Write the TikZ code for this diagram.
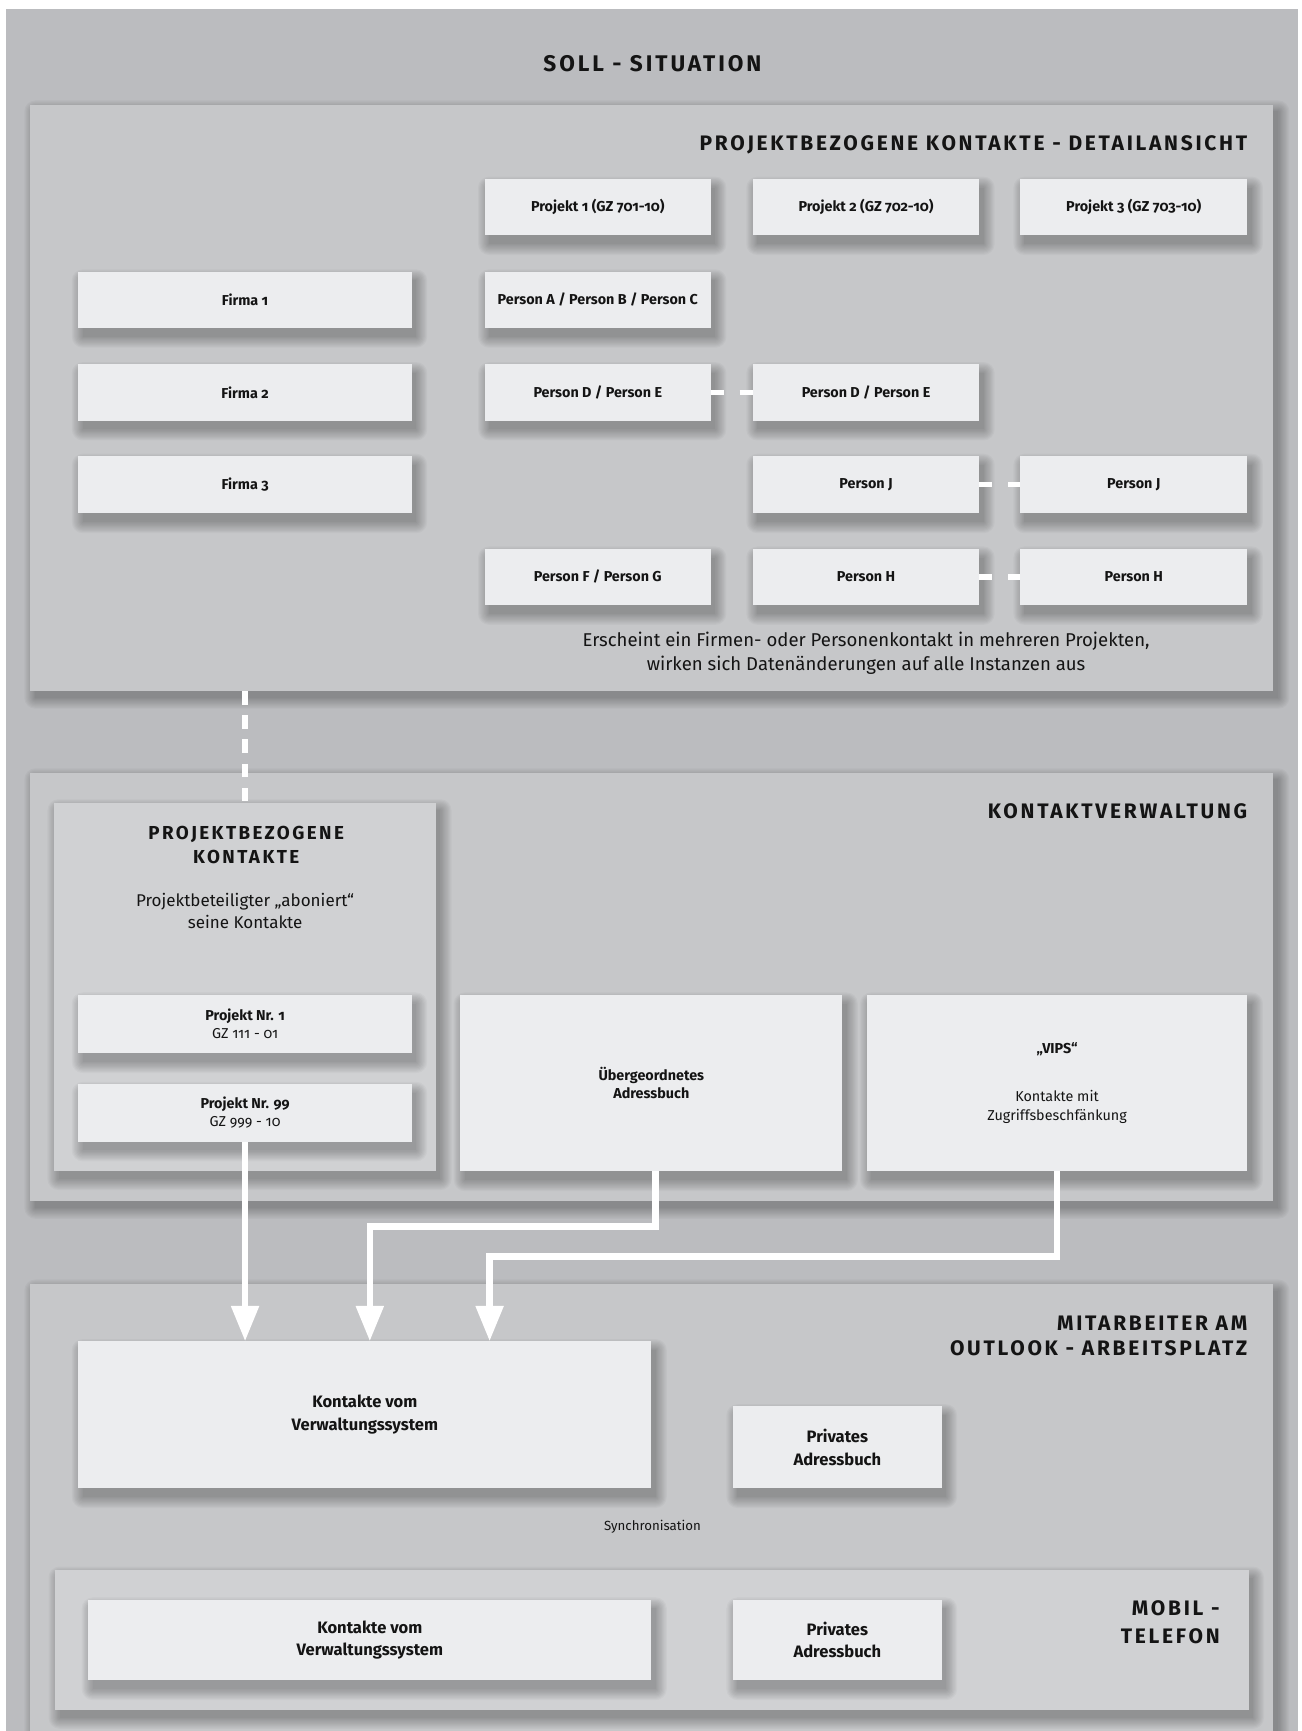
\documentclass[tikz,border=0pt]{standalone}
\usepackage{fontspec}
\setmainfont[Numbers=OldStyle]{Fira Sans}
\newfontfamily\trackfont[Numbers=OldStyle,LetterSpace=13]{Fira Sans}
\usetikzlibrary{arrows.meta,calc}

\pgfdeclarelayer{base}
\pgfdeclarelayer{pshade}
\pgfdeclarelayer{panels}
\pgfdeclarelayer{sshade}
\pgfdeclarelayer{subpanels}
\pgfdeclarelayer{bshade}
\pgfsetlayers{base,pshade,panels,sshade,subpanels,bshade,main}

\definecolor{outerbg}{HTML}{BBBCBF}
\definecolor{panelbg}{HTML}{C6C7C9}
\definecolor{subbg}{HTML}{D0D1D3}
\definecolor{boxbg}{HTML}{ECEDEF}
\definecolor{ink}{HTML}{141414}

% rectangle node given by its corners (x1,y1) (x2,y2), y growing downwards
\newcommand\areanode[7]{%
  \node[#1, anchor=north west, minimum width={#5pt-#3pt}, minimum height={#6pt-#4pt}] (#2) at (#3,#4) {#7};}

% soft drop shadow under a named node: dx, dy, blur spread
\newcommand\softshadow[4]{%
  \foreach \k in {0,...,9}{%
    \pgfmathsetmacro\rr{#4*\k/9}%
    \fill[black, fill opacity=0.028, rounded corners=\rr pt]
      ([shift={(-\rr+#2,-\rr+#3)}]#1.north west) rectangle ([shift={(\rr+#2,\rr+#3)}]#1.south east);
  }}

\begin{document}
\begin{tikzpicture}[x=1pt, y=-1pt,
  panel/.style={fill=panelbg, inner sep=0pt, outer sep=0pt},
  subpanel/.style={fill=subbg, inner sep=0pt, outer sep=0pt},
  card/.style={fill=boxbg, inner sep=0pt, outer sep=0pt, text=ink, align=center,
    font=\fontsize{13}{17}\selectfont\bfseries},
  bigcard/.style={card, font=\fontsize{15}{20.5}\selectfont\bfseries},
  head/.style={text=ink, inner sep=0pt, font=\trackfont\fontsize{19}{23}\selectfont\bfseries},
  plain/.style={text=ink, inner sep=0pt, align=center},
  link/.style={draw=white, line width=5pt, dash pattern=on 12pt off 14pt},
  flow/.style={draw=white, line width=6pt, -{Triangle[length=32pt,width=24pt]}}]

\useasboundingbox (0,0) rectangle (1178.5,1568);

% ---------- background ----------
\begin{pgfonlayer}{base}
  \fill[white] (0,0) rectangle (1178.5,1568);
  \areanode{fill=outerbg, inner sep=0pt, outer sep=0pt}{soll}{5}{8}{1176}{1580}{}
\end{pgfonlayer}

% ---------- main panels ----------
\begin{pgfonlayer}{panels}
  \areanode{panel}{detail}{27}{95}{1153}{626}{}
  \areanode{panel}{verw}{27}{700}{1153}{1088}{}
  \areanode{panel}{outlook}{27}{1163}{1153}{1600}{}
\end{pgfonlayer}

\begin{pgfonlayer}{subpanels}
  \areanode{subpanel}{pbk}{49}{727}{395}{1061}{}
  \areanode{subpanel}{mobil}{50}{1422}{1131}{1549}{}
\end{pgfonlayer}

% ---------- headings ----------
\node[head, font=\trackfont\fontsize{20.5}{24}\selectfont\bfseries, anchor=base] (title) at (591,65) {SOLL - SITUATION};
\node[head, anchor=base east] (hdetail) at (1130,136) {PROJEKTBEZOGENE KONTAKTE - DETAILANSICHT};
\node[head, anchor=base east] (hverw) at (1130,741) {KONTAKTVERWALTUNG};
\node[head, anchor=base east] (houta) at (1130,1205) {MITARBEITER AM};
\node[head, anchor=base east] (houtb) at (1130,1228) {OUTLOOK - ARBEITSPLATZ};
\node[head, anchor=base east] (hmoba) at (1105,1463.5) {MOBIL -};
\node[head, anchor=base east] (hmobb) at (1105,1488.5) {TELEFON};
\node[head, font=\trackfont\fontsize{17}{21}\selectfont\bfseries, anchor=base] (hpbka) at (223,760.6) {PROJEKTBEZOGENE};
\node[head, font=\trackfont\fontsize{17}{21}\selectfont\bfseries, anchor=base] (hpbkb) at (223,782.3) {KONTAKTE};
\node[plain, font=\fontsize{15.4}{19.6}\selectfont, anchor=base] (subpa) at (222,821.5) {Projektbeteiligter „aboniert“};
\node[plain, font=\fontsize{15.4}{19.6}\selectfont, anchor=base] (subpb) at (222,841) {seine Kontakte};

% ---------- detail view ----------
\areanode{card}{prj1}{439}{162}{644}{213}{Projekt 1 (GZ 701-10)}
\areanode{card}{prj2}{682}{162}{887}{213}{Projekt 2 (GZ 702-10)}
\areanode{card}{prj3}{924}{162}{1130}{213}{Projekt 3 (GZ 703-10)}
\areanode{card}{fa1}{71}{246}{373}{297}{Firma 1}
\areanode{card}{fa2}{71}{330}{373}{381}{Firma 2}
\areanode{card}{fa3}{71}{413}{373}{465}{Firma 3}
\areanode{card}{pABC}{439}{246}{644}{297}{Person A / Person B / Person C}
\areanode{card}{pDEa}{439}{330}{644}{381}{Person D / Person E}
\areanode{card}{pDEb}{682}{330}{887}{381}{Person D / Person E}
\areanode{card}{pJa}{682}{413}{887}{465}{Person J}
\areanode{card}{pJb}{924}{413}{1130}{465}{Person J}
\areanode{card}{pFG}{439}{497}{644}{548}{Person F / Person G}
\areanode{card}{pHa}{682}{497}{887}{548}{Person H}
\areanode{card}{pHb}{924}{497}{1130}{548}{Person H}
\node[plain, font=\fontsize{16.8}{22}\selectfont] (note) at (784.5,592)
  {Erscheint ein Firmen- oder Personenkontakt in mehreren Projekten,\\wirken sich Datenänderungen auf alle Instanzen aus};

% ---------- contact administration ----------
\areanode{card}{pn1}{71}{901}{373}{954}{Projekt Nr. 1\\[-0.5pt]{\mdseries GZ 111 - 01}}
\areanode{card}{pn99}{71}{982}{373}{1034}{Projekt Nr. 99\\[-0.5pt]{\mdseries GZ 999 - 10}}
\areanode{card}{ueb}{417}{901}{763}{1061}{Übergeordnetes\\Adressbuch}
\areanode{card}{vips}{785}{901}{1130}{1061}{„VIPS“\\[26pt]{\mdseries Kontakte mit}\\{\mdseries Zugriffsbeschfänkung}}

% ---------- workstation and phone ----------
\areanode{bigcard}{kv}{71}{1215}{590}{1348}{Kontakte vom\\Verwaltungssystem}
\areanode{bigcard}{priv}{664}{1274}{853}{1348}{Privates\\Adressbuch}
\node[plain, font=\fontsize{12}{14}\selectfont] (sync) at (591,1383) {Synchronisation};
\areanode{bigcard}{kvm}{80}{1449}{590}{1522}{Kontakte vom\\Verwaltungssystem}
\areanode{bigcard}{privm}{664}{1449}{853}{1522}{Privates\\Adressbuch}

% ---------- shadows ----------
\begin{pgfonlayer}{pshade}
  \foreach \n in {detail,verw,outlook}{\softshadow{\n}{5}{6}{10}}
\end{pgfonlayer}
\begin{pgfonlayer}{sshade}
  \foreach \n in {pbk,mobil}{\softshadow{\n}{4}{7}{10}}
\end{pgfonlayer}
\begin{pgfonlayer}{bshade}
  \foreach \n in {prj1,prj2,prj3,fa1,fa2,fa3,pABC,pDEa,pDEb,pJa,pJb,pFG,pHa,pHb,
                  pn1,pn99,ueb,vips,kv,priv,kvm,privm}{\softshadow{\n}{4}{8}{10}}
\end{pgfonlayer}

% ---------- connectors ----------
\draw[link] (pDEa.east) -- (pDEb.west);
\draw[link] (pJa.east) -- (pJb.west);
\draw[link] (pHa.east) -- (pHb.west);
\draw[link, dash pattern=on 12.4pt off 9.5pt] (pbk.north |- detail.south) -- (pbk.north);

\coordinate (bend1) at (335,1111);
\coordinate (bend2) at (443.5,1138);
\draw[flow] (pn99.south) -- (pn99.south |- kv.north);
\draw[flow] ([xshift=4pt]ueb.south) |- (bend1) -- (bend1 |- kv.north);
\draw[flow] (vips.south) |- (bend2) -- (bend2 |- kv.north);

\end{tikzpicture}
\end{document}
